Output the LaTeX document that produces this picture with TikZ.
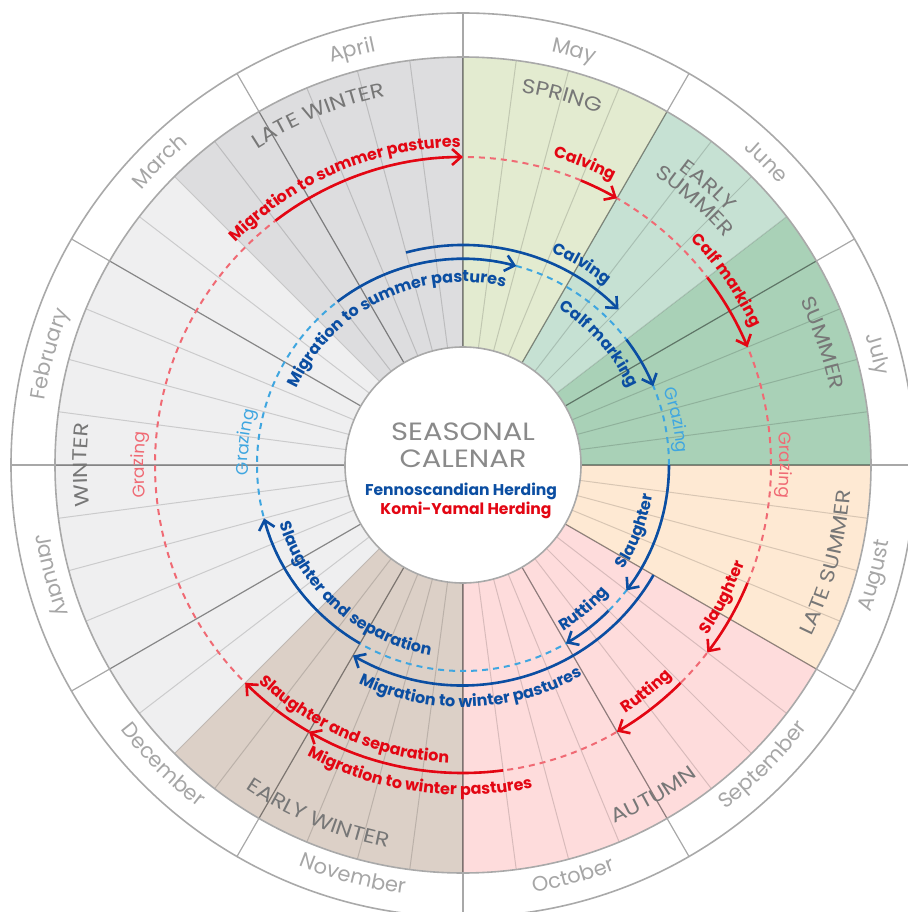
\documentclass[tikz,border=0pt]{standalone}
\usepackage{fontspec}
\setmainfont{Poppins}
\newfontfamily\widefont[FakeStretch=1.16]{Poppins}
\usetikzlibrary{arrows.meta,decorations.text}

\definecolor{lwinter}{HTML}{DDDDDF}
\definecolor{winter}{HTML}{EFEFF0}
\definecolor{ewinter}{HTML}{DCD0C7}
\definecolor{autumn}{HTML}{FEDCDC}
\definecolor{lsummer}{HTML}{FEE9D3}
\definecolor{summer}{HTML}{A9D1B7}
\definecolor{esummer}{HTML}{C6E1D3}
\definecolor{spring}{HTML}{E3EBD0}
\definecolor{fenno}{HTML}{0B4EA2}
\definecolor{fennolight}{HTML}{3FA6E0}
\definecolor{komi}{HTML}{E30613}
\definecolor{komilight}{HTML}{F06A74}
\definecolor{ringgray}{HTML}{A9A9A9}
\definecolor{monthgray}{HTML}{A6A6A6}
\definecolor{seasongray}{HTML}{777777}
\definecolor{titlegray}{HTML}{8A8A8A}

\newcommand\monthfont{\color{monthgray}\fontsize{10.5}{12}\selectfont}
\newcommand\seasonfont{\color{seasongray}\widefont\fontsize{10}{11}\selectfont}
\newcommand\fennofont{\color{fenno}\bfseries\fontsize{8}{9}\selectfont}
\newcommand\komifont{\color{komi}\bfseries\fontsize{8}{9}\selectfont}
\newcommand\fennograze{\color{fennolight}\fontsize{8.5}{9}\selectfont}
\newcommand\komigraze{\color{komilight}\fontsize{8.5}{9}\selectfont}

% text on an arc: #1 format, #2 centre angle, #3 baseline radius, #4 text
\newcommand\cwtext[4]{\path[decorate, decoration={text along path, text align=center, text={|#1|#4}}]
  ({#2+80}:#3) arc[start angle={#2+80}, end angle={#2-80}, radius=#3];}
\newcommand\ccwtext[4]{\path[decorate, decoration={text along path, text align=center, text={|#1|#4}}]
  ({#2-80}:#3) arc[start angle={#2-80}, end angle={#2+80}, radius=#3];}

\begin{document}
\begin{tikzpicture}[x=0.5pt, y=0.5pt,
  weekline/.style={black, opacity=0.15, line width=0.5pt},
  monthline/.style={black, opacity=0.34, line width=0.6pt},
  ringline/.style={ringgray, line width=0.8pt},
  fennodash/.style={fennolight, line width=1pt, dash pattern=on 3pt off 2.5pt},
  komidash/.style={komilight, line width=1pt, dash pattern=on 3pt off 2.5pt},
  fennoarrow/.style={fenno, line width=1.3pt, -{Straight Barb[length=4.5pt, width=8pt]}},
  komiarrow/.style={komi, line width=1.3pt, -{Straight Barb[length=4.5pt, width=8pt]}},
  titletext/.style={font=\widefont\fontsize{12.5}{14}\selectfont, text=titlegray, anchor=base},
  keytext/.style={font=\bfseries\fontsize{7.8}{9}\selectfont, anchor=base}]
  \useasboundingbox (-463,-447) rectangle (444,465);

  % seasons
  \foreach \a/\b/\c in {90/135/lwinter, 135/225/winter, 225/270/ewinter, 270/330/autumn,
                        330/360/lsummer, 0/37.5/summer, 37.5/60/esummer, 60/90/spring}
    \fill[\c] (0,0) -- (\a:408) arc[start angle=\a, end angle=\b, radius=408] -- cycle;

  % weeks and months
  \foreach \a in {0,7.5,...,352.5}
    \draw[weekline] (\a:118) -- (\a:408);
  \foreach \a in {0,30,...,330}
    \draw[monthline] (\a:118) -- (\a:452);
  \draw[ringline] (0,0) circle[radius=452];
  \draw[ringline] (0,0) circle[radius=408];
  \draw[ringline, fill=white] (0,0) circle[radius=118];

  % month names
  \cwtext{\monthfont}{105}{423}{April}
  \cwtext{\monthfont}{75}{423}{May}
  \cwtext{\monthfont}{45}{423}{June}
  \cwtext{\monthfont}{15}{423}{July}
  \ccwtext{\monthfont}{-15}{433}{August}
  \ccwtext{\monthfont}{-45}{433}{September}
  \ccwtext{\monthfont}{-75}{433}{October}
  \ccwtext{\monthfont}{-105}{433}{November}
  \ccwtext{\monthfont}{-135}{433}{December}
  \ccwtext{\monthfont}{-165}{433}{January}
  \cwtext{\monthfont}{165}{423}{February}
  \cwtext{\monthfont}{135}{423}{March}

  % season names
  \cwtext{\seasonfont}{112.5}{377}{LATE WINTER}
  \cwtext{\seasonfont}{75}{377}{SPRING}
  \cwtext{\seasonfont}{48.75}{366}{EARLY}
  \cwtext{\seasonfont}{48.75}{347}{SUMMER}
  \cwtext{\seasonfont}{18.75}{375}{SUMMER}
  \ccwtext{\seasonfont}{-15}{388}{LATE SUMMER}
  \ccwtext{\seasonfont}{-60}{389}{AUTUMN}
  \ccwtext{\seasonfont}{-112.5}{390}{EARLY WINTER}
  \cwtext{\seasonfont}{180}{376}{WINTER}

  % Komi-Yamal
  \draw[komidash] (0,0) circle[radius=308];
  \draw[komiarrow] (127.5:308) arc[start angle=127.5, end angle=90, radius=308];
  \draw[komiarrow] (67.5:308) arc[start angle=67.5, end angle=60, radius=308];
  \draw[komiarrow] (37.5:308) arc[start angle=37.5, end angle=22.5, radius=308];
  \draw[komiarrow] (-22.5:308) arc[start angle=-22.5, end angle=-37.5, radius=308];
  \draw[komiarrow] (-45:308) arc[start angle=-45, end angle=-60, radius=308];
  \draw[komiarrow] (-82.5:308) arc[start angle=-82.5, end angle=-120, radius=308];
  \draw[komiarrow] (-120:308) arc[start angle=-120, end angle=-135, radius=308];
  \cwtext{\komifont}{113}{318}{Migration to summer pastures}
  \cwtext{\komifont}{68}{321}{Calving}
  \cwtext{\komifont}{35}{320}{Calf marking}
  \cwtext{\komigraze}{0}{317}{Grazing}
  \ccwtext{\komifont}{-27}{298}{Slaughter}
  \ccwtext{\komifont}{-51}{297}{Rutting}
  \ccwtext{\komifont}{-98}{330}{Migration to winter pastures}
  \ccwtext{\komifont}{-113}{298}{Slaughter and separation}
  \cwtext{\komigraze}{180}{319}{Grazing}

  % Fennoscandian
  \draw[fennodash] (0,0) circle[radius=206];
  \draw[fennoarrow] (127.5:206) arc[start angle=127.5, end angle=75, radius=206];
  \draw[fennoarrow] (105:220) arc[start angle=105, end angle=45, radius=220];
  \draw[fennoarrow] (37.5:206) arc[start angle=37.5, end angle=22.5, radius=206];
  \draw[fennoarrow] (0:206) arc[start angle=0, end angle=-37.5, radius=206];
  \draw[fennoarrow] (-45:206) arc[start angle=-45, end angle=-60, radius=206];
  \draw[fennoarrow] (-30:220) arc[start angle=-30, end angle=-120, radius=220];
  \draw[fennoarrow] (-120:206) arc[start angle=-120, end angle=-165, radius=206];
  \cwtext{\fennofont}{116}{183}{Migration to summer pastures}
  \cwtext{\fennofont}{59.5}{230}{Calving}
  \cwtext{\fennofont}{41.7}{183}{Calf marking}
  \cwtext{\fennograze}{11.9}{214}{Grazing}
  \ccwtext{\fennofont}{-21}{192}{Slaughter}
  \ccwtext{\fennofont}{-50}{194}{Rutting}
  \ccwtext{\fennofont}{-88}{242}{Migration to winter pastures}
  \ccwtext{\fennofont}{-131}{193}{Slaughter and separation}
  \cwtext{\fennograze}{174}{215}{Grazing}

  % centre
  \node[titletext] (title) at (0,25) {SEASONAL};
  \node[titletext] (subtitle) at (0,-2.3) {CALENAR};
  \node[keytext, text=fenno] (fennokey) at (-2,-30) {Fennoscandian Herding};
  \node[keytext, text=komi] (komikey) at (3,-49.3) {Komi-Yamal Herding};
\end{tikzpicture}
\end{document}
